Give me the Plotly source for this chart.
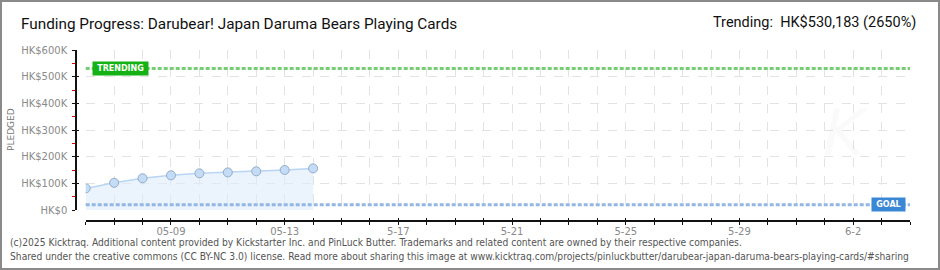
import plotly.graph_objects as go

# ---------------- data ----------------
dates = ["2025-05-06", "2025-05-07", "2025-05-08", "2025-05-09", "2025-05-10",
         "2025-05-11", "2025-05-12", "2025-05-13", "2025-05-14"]
pledged = [81000, 102000, 119000, 130000, 137500, 141000, 145000, 150000, 156000]
goal = 20000
trending = 530183
x_range = ["2025-05-06", "2025-06-04"]
x_tick_dates = ["2025-05-%02d" % d for d in range(6, 32)] + ["2025-06-%02d" % d for d in range(1, 5)]
x_label_map = {"2025-05-09": "05-09", "2025-05-13": "05-13", "2025-05-17": "5-17",
               "2025-05-21": "5-21", "2025-05-25": "5-25", "2025-05-29": "5-29",
               "2025-06-02": "6-2"}
x_tick_text = [x_label_map.get(d, "") for d in x_tick_dates]
y_tick_vals = [0, 100000, 200000, 300000, 400000, 500000, 600000]
y_tick_text = ["HK$0", "HK$100K", "HK$200K", "HK$300K", "HK$400K", "HK$500K", "HK$600K"]

title_text = "Funding Progress: Darubear! Japan Daruma Bears Playing Cards"
trend_text = "Trending:  HK$530,183 (2650%)"
footer1 = ("(c)2025 Kicktraq. Additional content provided by Kickstarter Inc. and PinLuck Butter. "
           "Trademarks and related content are owned by their respective companies.")
footer2 = ("Shared under the creative commons (CC BY-NC 3.0) license. Read more about sharing this image "
           "at www.kicktraq.com/projects/pinluckbutter/darubear-japan-daruma-bears-playing-cards/#sharing")

# ---------------- layout geometry (pixels) ----------------
W, H = 940, 270
L, R, T, B = 76, 910, 50, 221          # paper box
PW, PH = R - L, B - T
X0 = 85.7                               # start of x domain
Y0 = 210                                # y=0 pixel


def px(x):
    return (x - L) / PW


def py(y):
    return (B - y) / PH


fig = go.Figure()

fig.add_trace(go.Scatter(
    x=dates, y=pledged, mode="lines+markers", fill="tozeroy",
    fillcolor="rgba(222,236,252,0.6)",
    line=dict(color="#b9d5f3", width=1.5),
    marker=dict(size=9, color="#c5dcf6", line=dict(color="#93abc9", width=1)),
    hoverinfo="skip", showlegend=False))

# invisible trace for overlay axes (crossing ticks)
fig.add_trace(go.Scatter(x=[None], y=[None], xaxis="x2", yaxis="y2",
                         showlegend=False, hoverinfo="skip"))

grid = dict(showgrid=True, gridcolor="#e3e3e3", griddash="dash", gridwidth=1)
tickfont = dict(family="DejaVu Sans", size=10, color="#8a8a8a")

fig.update_layout(
    width=W, height=H,
    margin=dict(l=L, r=W - R, t=T, b=H - B),
    paper_bgcolor="white", plot_bgcolor="white",
    xaxis=dict(
        domain=[px(X0), 1], range=x_range, type="date",
        tickmode="array", tickvals=x_tick_dates, ticktext=x_tick_text,
        ticks="outside", ticklen=3, tickcolor="#111", tickwidth=1,
        showline=True, linecolor="#111", linewidth=1.5,
        anchor="free", position=0, tickfont=tickfont, zeroline=False,
        ticklabelstandoff=-2, **grid),
    yaxis=dict(
        domain=[py(Y0), 1], range=[0, 600000],
        tickmode="array", tickvals=y_tick_vals, ticktext=y_tick_text,
        ticks="outside", ticklen=3, tickcolor="#111", tickwidth=1,
        minor=dict(dtick=50000, tick0=0, ticks="outside", ticklen=3,
                   tickcolor="#e00000", showgrid=False),
        showline=True, linecolor="#111", linewidth=1.5,
        anchor="free", position=0, tickfont=tickfont, zeroline=False,
        ticklabelstandoff=3, **grid),
    xaxis2=dict(overlaying="x", range=x_range, type="date", anchor="free", position=0,
                tickmode="array", tickvals=x_tick_dates, showticklabels=False,
                ticks="inside", ticklen=3, tickcolor="#111", showgrid=False,
                showline=False, zeroline=False),
    yaxis2=dict(overlaying="y", range=[0, 600000], anchor="free", position=0,
                tickmode="array", tickvals=y_tick_vals, showticklabels=False,
                ticks="inside", ticklen=2, tickcolor="#111", showgrid=False,
                showline=False, zeroline=False),
)

# trending / goal lines
fig.add_shape(type="line", xref="x domain", yref="y", x0=0, x1=1, y0=trending, y1=trending,
              line=dict(color="#78cc78", width=3, dash="4px,2px"), layer="above")
fig.add_shape(type="line", xref="x domain", yref="y", x0=0, x1=1, y0=goal, y1=goal,
              line=dict(color="#93b6e2", width=3, dash="4px,2px"), layer="above")

# labels
fig.add_annotation(xref="x domain", yref="y", x=(120.8 - X0) / (R - X0), y=trending,
                   text="<b>TRENDING</b>", showarrow=False,
                   font=dict(family="DejaVu Sans", size=8, color="white"),
                   bgcolor="#15b215", width=51, height=9, borderpad=2,
                   xanchor="center", yanchor="middle")
fig.add_annotation(xref="x domain", yref="y", x=(888 - X0) / (R - X0), y=goal,
                   text="<b>GOAL</b>", showarrow=False,
                   font=dict(family="DejaVu Sans", size=8, color="white"),
                   bgcolor="#3a87d6", width=29, height=9, borderpad=2,
                   xanchor="center", yanchor="middle")

# faint watermark
fig.add_annotation(xref="paper", yref="paper", x=px(872), y=py(172), text="<i>K</i>",
                   showarrow=False, font=dict(family="DejaVu Sans", size=64,
                                              color="rgba(0,0,0,0.018)"))

# Y title
fig.add_annotation(xref="paper", yref="paper", x=px(11), y=py(130), text="PLEDGED",
                   textangle=-90, showarrow=False, xanchor="center", yanchor="middle",
                   font=dict(family="DejaVu Sans", size=9, color="#777"))

# title & trending text
fig.add_annotation(xref="paper", yref="paper", x=px(19), y=py(24), text=title_text,
                   showarrow=False, xanchor="left", yanchor="middle",
                   font=dict(family="Roboto", size=15.3, color="#111"))
fig.add_annotation(xref="paper", yref="paper", x=px(918), y=py(22), text=trend_text,
                   showarrow=False, xanchor="right", yanchor="middle",
                   font=dict(family="Roboto", size=14.5, color="#111"))

# footer
fig.add_annotation(xref="paper", yref="paper", x=px(8), y=py(242), text=footer1,
                   showarrow=False, xanchor="left", yanchor="middle",
                   font=dict(family="DejaVu Sans Condensed", size=10.2, color="#555"))
fig.add_annotation(xref="paper", yref="paper", x=px(8), y=py(256), text=footer2,
                   showarrow=False, xanchor="left", yanchor="middle",
                   font=dict(family="DejaVu Sans Condensed", size=10.2, color="#555"))

# outer border
fig.add_shape(type="rect", xref="paper", yref="paper", x0=px(1), x1=px(W - 1),
              y0=py(H - 1), y1=py(1), line=dict(color="#8a8a8a", width=2))

fig.write_html("out.html")
